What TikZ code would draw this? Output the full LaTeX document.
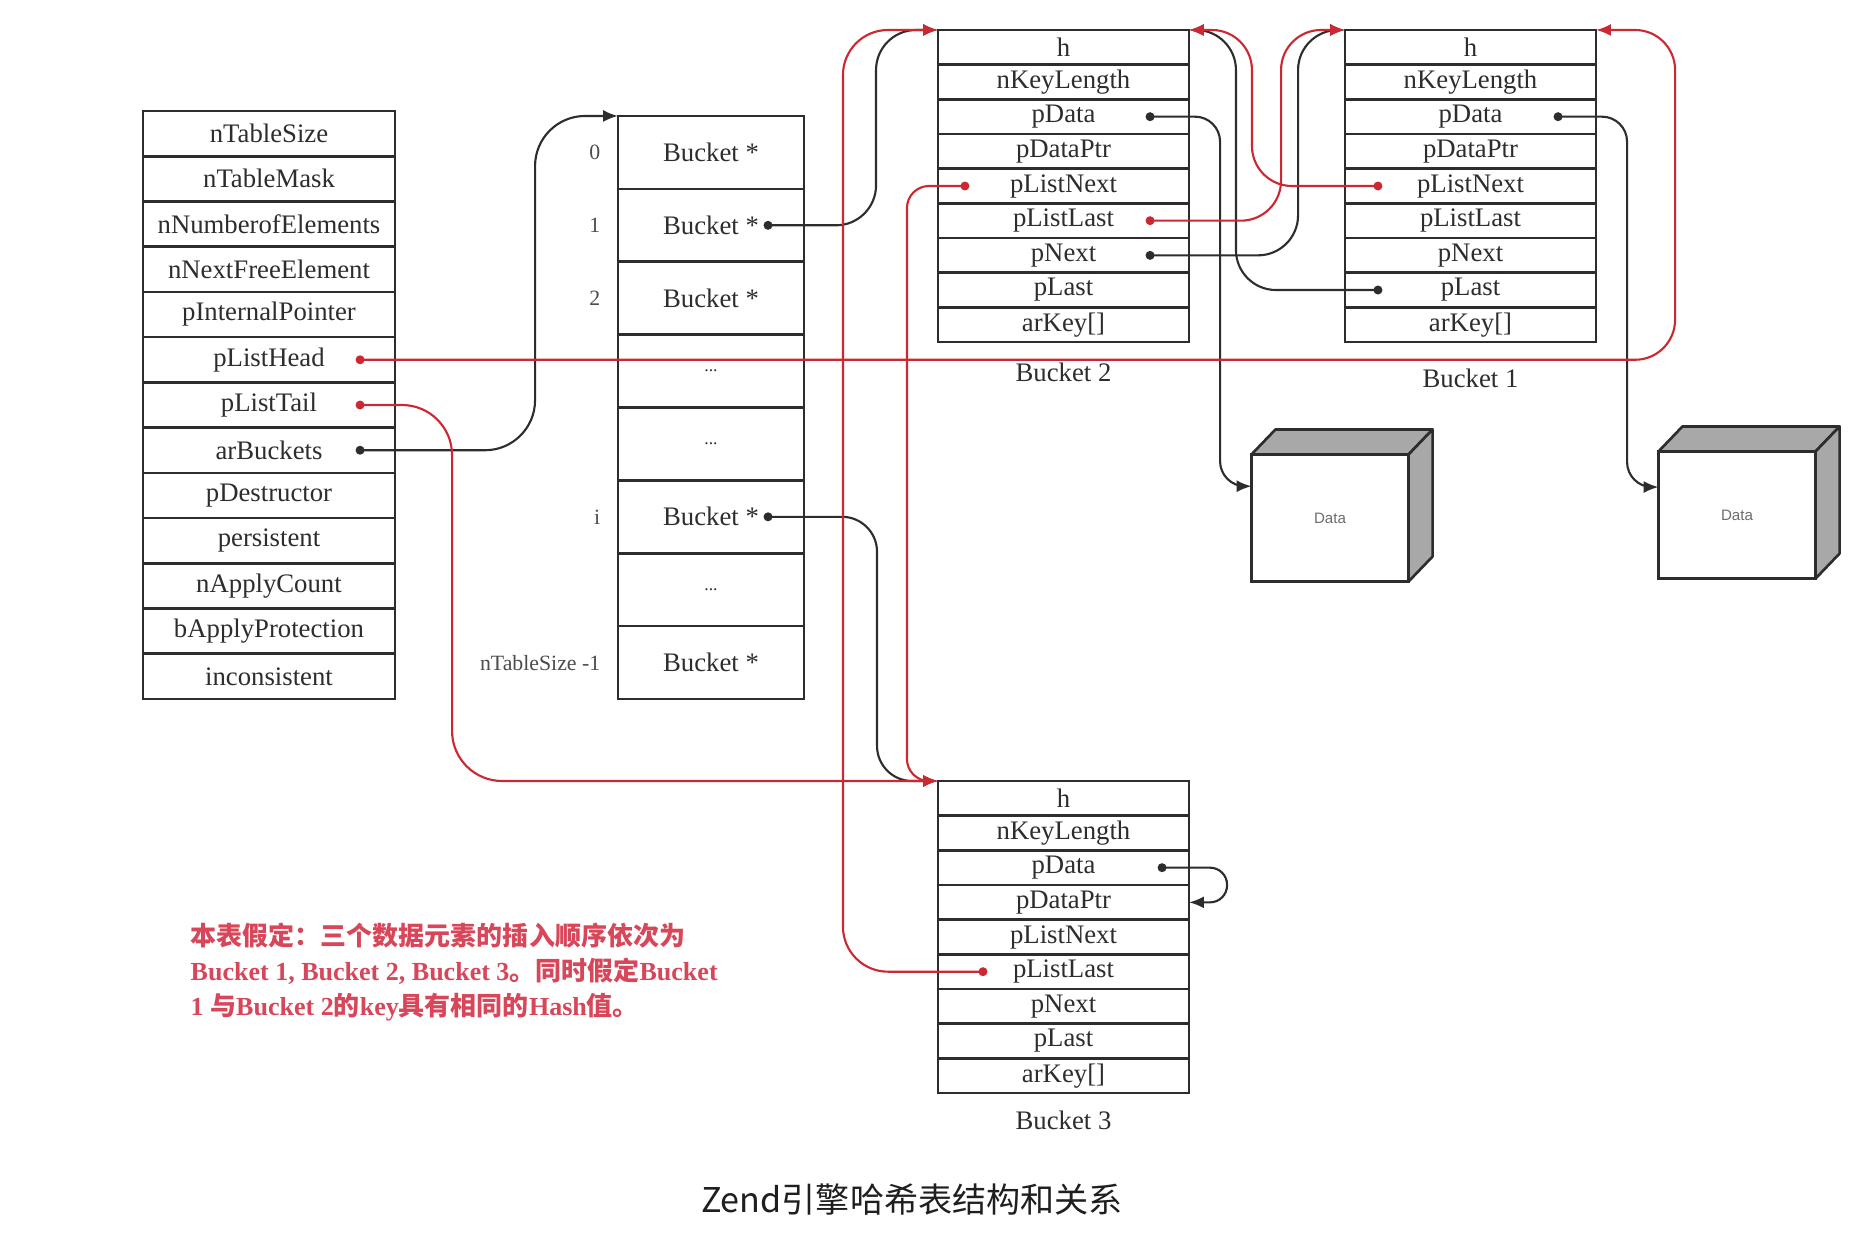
\documentclass[tikz,border=0pt]{standalone}
\usepackage{fontspec}
\setmainfont{Liberation Serif}
\newfontfamily\cjk{Noto Sans CJK SC}
\newfontfamily\datafont{Liberation Sans}
\usepackage{xcolor}
\usetikzlibrary{arrows.meta,calc,positioning}

\definecolor{ink}{RGB}{45,45,45}
\definecolor{linkred}{RGB}{204,40,50}
\definecolor{notered}{RGB}{216,70,90}
\definecolor{cubegray}{RGB}{168,168,168}

\tikzset{
  field/.style={draw=ink, line width=0.75pt, inner sep=0pt, outer sep=0pt,
    text=ink, font=\fontsize{7.6}{9}\selectfont},
  htfield/.style={field, minimum width=2.52cm, minimum height=0.4523cm},
  slotfield/.style={field, minimum width=1.86cm, minimum height=0.72875cm},
  bfield/.style={field, minimum width=2.51cm, minimum height=0.3467cm},
  slotidx/.style={text=ink!85, font=\fontsize{6.2}{7}\selectfont, inner sep=0pt},
  bucketname/.style={text=ink, font=\fontsize{7.6}{9}\selectfont, inner sep=0pt},
  ptr/.style={draw=ink, line width=0.6pt, -{Latex[length=4.2pt,width=3.4pt]}},
  rptr/.style={ptr, draw=linkred},
  dataface/.style={draw=ink, line width=0.75pt, fill=white, minimum width=1.57cm,
    minimum height=1.27cm, inner sep=0pt, outer sep=0pt, text=ink!70,
    font=\datafont\fontsize{4.3}{5}\selectfont},
  cubeface/.style={draw=ink, line width=0.75pt, fill=cubegray, line join=round},
  note/.style={anchor=west, align=left, inner sep=0pt, text=notered,
    font=\bfseries\fontsize{7.4}{9.96}\selectfont},
  caption/.style={inner sep=0pt, text=black!88, font=\cjk\fontsize{9.7}{11}\selectfont},
}

\newcommand{\gapdots}{{\fontsize{5}{6}\selectfont ...}}

\begin{document}
\begin{tikzpicture}[x=0.01cm, y=-0.01cm]
\path[use as bounding box, fill=white] (0,0) rectangle (1858,1234);

%% HashTable struct
\foreach \fld [count=\k] in {nTableSize,nTableMask,nNumberofElements,nNextFreeElement,
    pInternalPointer,pListHead,pListTail,arBuckets,pDestructor,persistent,
    nApplyCount,bApplyProtection,inconsistent}
  \node[htfield] (ht-\k) at (269, 111+45.23*\k-22.6) {\fld};

%% arBuckets array
\foreach \fld [count=\k] in {Bucket *,Bucket *,Bucket *,\gapdots,\gapdots,Bucket *,\gapdots,Bucket *}
  \node[slotfield] (ha-\k) at (711, 116+72.875*\k-36.44) {\fld};
\node[slotidx, left=0.17cm of ha-1] (idx-0) {0};
\node[slotidx, left=0.17cm of ha-2] (idx-1) {1};
\node[slotidx, left=0.17cm of ha-3] (idx-2) {2};
\node[slotidx, left=0.17cm of ha-6] (idx-i) {i};
\node[slotidx, left=0.17cm of ha-8] (idx-last) {nTableSize -1};

%% Buckets
\foreach \bname/\bx/\by in {b2/1063.5/30, b1/1470.5/30, b3/1063.5/781}
  \foreach \fld [count=\k] in {h,nKeyLength,pData,pDataPtr,pListNext,pListLast,pNext,pLast,{arKey[]}}
    \node[bfield] (\bname-\k) at (\bx, \by+34.67*\k-17.33) {\fld};
\node[bucketname] (b2-name) at (1063.5, 372) {Bucket 2};
\node[bucketname] (b1-name) at (1470.5, 378) {Bucket 1};
\node[bucketname] (b3-name) at (1063.5, 1120) {Bucket 3};

%% Data boxes
\node[dataface] (d1) at (1330, 518) {Data};
\node[dataface] (d2) at (1737, 515) {Data};
\foreach \d in {d1,d2} {
  \filldraw[cubeface] (\d.north west) -- ++(24,-25) -- ($(\d.north east)+(24,-25)$)
    -- (\d.north east) -- cycle;
  \filldraw[cubeface] (\d.north east) -- ++(24,-25) -- ($(\d.south east)+(24,-25)$)
    -- (\d.south east) -- cycle;
}

%% Pointer origins
\coordinate (ht-6-p) at ([xshift=-0.35cm]ht-6.east);
\coordinate (ht-7-p) at ([xshift=-0.35cm]ht-7.east);
\coordinate (ht-8-p) at ([xshift=-0.35cm]ht-8.east);
\coordinate (ha-2-p) at ([xshift=-0.36cm]ha-2.east);
\coordinate (ha-6-p) at ([xshift=-0.36cm]ha-6.east);
\coordinate (b2-3-p) at ([xshift=-0.39cm]b2-3.east);
\coordinate (b2-5-p) at ([xshift=0.27cm]b2-5.west);
\coordinate (b2-6-p) at ([xshift=-0.39cm]b2-6.east);
\coordinate (b2-7-p) at ([xshift=-0.39cm]b2-7.east);
\coordinate (b1-3-p) at ([xshift=-0.38cm]b1-3.east);
\coordinate (b1-5-p) at ([xshift=0.33cm]b1-5.west);
\coordinate (b1-8-p) at ([xshift=0.33cm]b1-8.west);
\coordinate (b3-3-p) at ([xshift=-0.27cm]b3-3.east);
\coordinate (b3-6-p) at ([xshift=0.45cm]b3-6.west);

%% Black pointers
\draw[ptr, rounded corners=0.5cm] (ht-8-p) -- ++(175,0) |- (ha-1.north west);
\draw[ptr, rounded corners=0.4cm] (ha-2-p) -- ++(108,0) |- (b2-1.north west);
\draw[ptr, rounded corners=0.35cm] (ha-6-p) -- ++(109,0) |- (b3-1.north west);
\draw[ptr, rounded corners=0.25cm] (b2-3-p) -- ++(70,0) |- ($(d1.north west)!0.25!(d1.south west)$);
\draw[ptr, rounded corners=0.4cm] (b2-7-p) -- ++(148,0) |- (b1-1.north west);
\draw[ptr, rounded corners=0.4cm] (b1-8-p) -- ++(-142,0) |- (b2-1.north east);
\draw[ptr, rounded corners=0.25cm] (b1-3-p) -- ++(69,0) |- ($(d2.north west)!0.28!(d2.south west)$);
\draw[ptr, rounded corners=0.17cm] (b3-3-p) -- ++(65,0) |- (b3-4.east);

%% Red list pointers
\draw[rptr, rounded corners=0.4cm] (ht-6-p) -| ($(b1-1.north east)+(79,0)$) -- (b1-1.north east);
\draw[rptr, rounded corners=0.5cm] (ht-7-p) -- ++(92,0) |- (b3-1.north west);
\draw[rptr, rounded corners=0.45cm] (b3-6-p) -- ++(-140,0) |- (b2-1.north west);
\draw[rptr, rounded corners=0.22cm] (b2-5-p) -- ++(-58,0) |- (b3-1.north west);
\draw[rptr, rounded corners=0.4cm] (b2-6-p) -- ++(131,0) |- (b1-1.north west);
\draw[rptr, rounded corners=0.4cm] (b1-5-p) -- ++(-126,0) |- (b2-1.north east);

%% Dots
\foreach \p in {ht-8-p,ha-2-p,ha-6-p,b2-3-p,b2-7-p,b1-3-p,b1-8-p,b3-3-p}
  \fill[ink] (\p) circle (0.045cm);
\foreach \p in {ht-6-p,ht-7-p,b2-5-p,b2-6-p,b1-5-p,b3-6-p}
  \fill[linkred] (\p) circle (0.045cm);

%% Note and caption
\node[note] (note) at (190, 972) {{\cjk 本表假定：三个数据元素的插入顺序依次为}\\
  Bucket 1, Bucket 2, Bucket 3{\cjk 。同时假定}Bucket\\
  1 {\cjk 与}Bucket 2{\cjk 的}key{\cjk 具有相同的}Hash{\cjk 值。}};
\node[caption] (title) at (912, 1200) {Zend引擎哈希表结构和关系};

\end{tikzpicture}
\end{document}
